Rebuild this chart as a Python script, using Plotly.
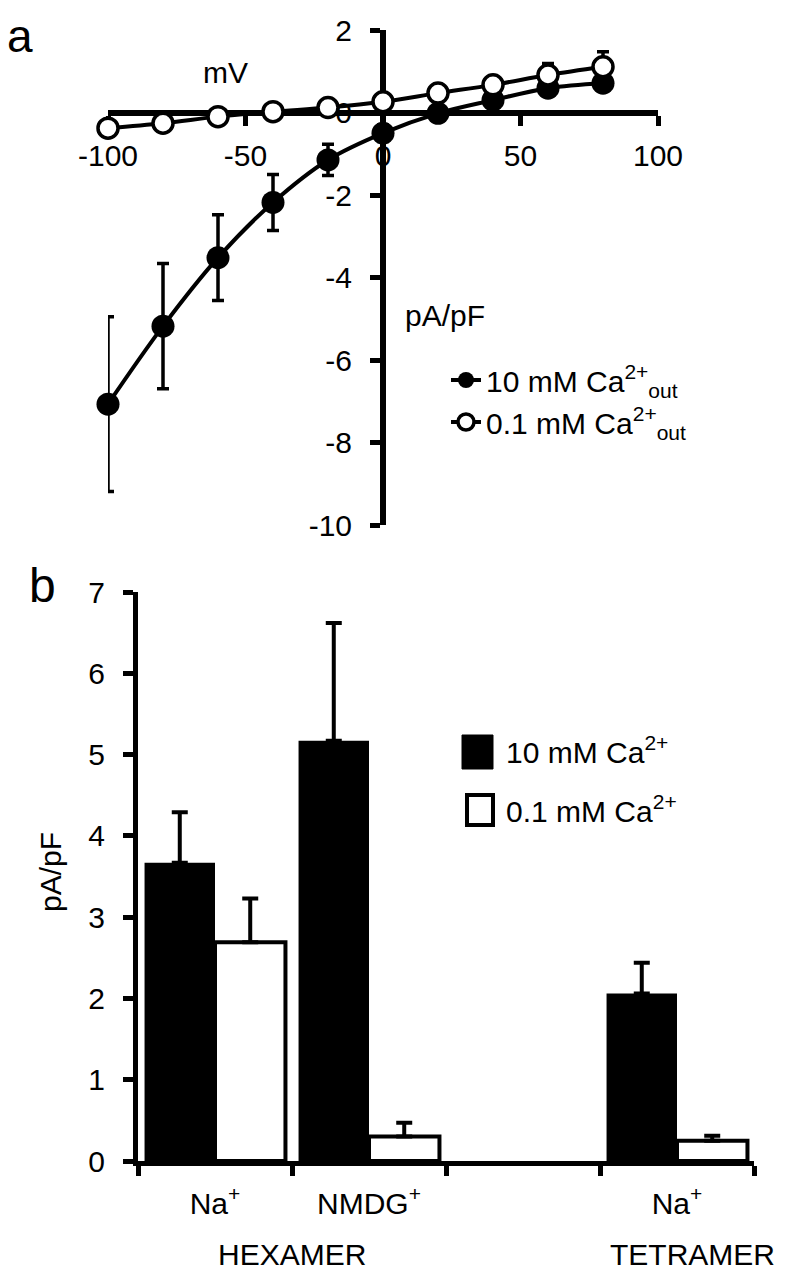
import plotly.graph_objects as go

# ---------------- data: panel a (I-V curves) ----------------
voltage_mv = [-100, -80, -60, -40, -20, 0, 20, 40, 60, 80]
current_10mM = [-7.07, -5.18, -3.52, -2.18, -1.15, -0.50, -0.02, 0.30, 0.59, 0.71]
err_10mM = [2.12, 1.52, 1.04, 0.68, 0.38, 0.20, 0.12, 0.12, 0.12, 0.12]
current_01mM = [-0.38, -0.26, -0.10, 0.02, 0.12, 0.26, 0.47, 0.67, 0.91, 1.11]
err_01mM = [0.05, 0.05, 0.05, 0.05, 0.05, 0.05, 0.08, 0.10, 0.28, 0.36]
xa_ticks = [-100, -50, 0, 50, 100]
xa_ticktext = ["-100", "-50", "0", "50", "100"]
ya_ticks = [-10, -8, -6, -4, -2, 0, 2]
ya_ticktext = ["-10", "-8", "-6", "-4", "-2", "0", "2"]

# ---------------- data: panel b (bar chart) ----------------
categories = ["Na<sup>+</sup>", "NMDG<sup>+</sup>", "", "Na<sup>+</sup>"]
groups = ["HEXAMER", "TETRAMER"]
bars_10mM = [3.67, 5.17, None, 2.06]
bars_10mM_err = [0.62, 1.45, None, 0.38]
bars_01mM = [2.69, 0.30, None, 0.25]
bars_01mM_err = [0.54, 0.17, None, 0.06]
yb_ticks = [0, 1, 2, 3, 4, 5, 6, 7]

FONT = "Liberation Sans, Arial, sans-serif"
FS = 30
PAGE_W, PAGE_H = 792, 1277
OFF = 8  # default page margin around the plot div
W, H = PAGE_W - OFF, PAGE_H - OFF

def px(x):
    return (x - OFF) / W

def py(y):
    return 1 - (y - OFF) / H

fig = go.Figure()

# panel a traces
fig.add_trace(go.Scatter(
    x=voltage_mv, y=current_10mM, mode="lines+markers",
    name="10 mM Ca<sup>2+</sup><sub>out</sub>",
    line=dict(color="black", width=4, shape="spline"),
    marker=dict(symbol="circle", size=23, color="black", line=dict(width=0)),
    error_y=dict(type="data", array=err_10mM, color="black", thickness=3.5, width=6),
    xaxis="x", yaxis="y", cliponaxis=False, legend="legend",
))
fig.add_trace(go.Scatter(
    x=voltage_mv, y=current_01mM, mode="lines+markers",
    name="0.1 mM Ca<sup>2+</sup><sub>out</sub>",
    line=dict(color="black", width=4, shape="spline"),
    marker=dict(symbol="circle", size=20, color="white", line=dict(color="black", width=3.5)),
    error_y=dict(type="data", array=err_01mM, color="black", thickness=3.5, width=6),
    xaxis="x", yaxis="y", cliponaxis=False, legend="legend",
))

# panel b traces
positions = list(range(len(categories)))
fig.add_trace(go.Bar(
    x=positions, y=bars_10mM, name="10 mM Ca<sup>2+</sup>",
    marker=dict(color="black", line=dict(color="black", width=0)),
    error_y=dict(type="data", symmetric=False, array=bars_10mM_err,
                 arrayminus=[0 if v is not None else None for v in bars_10mM_err],
                 color="black", thickness=4, width=8),
    xaxis="x2", yaxis="y2", showlegend=False,
))
fig.add_trace(go.Bar(
    x=positions, y=bars_01mM, name="0.1 mM Ca<sup>2+</sup>",
    marker=dict(color="white", line=dict(color="black", width=4)),
    error_y=dict(type="data", symmetric=False, array=bars_01mM_err,
                 arrayminus=[0 if v is not None else None for v in bars_01mM_err],
                 color="black", thickness=4, width=8),
    xaxis="x2", yaxis="y2", showlegend=False,
))

# axis geometry for panel a (axes cross at origin)
xa_dom = [px(108), px(658)]
ya_dom = [py(525), py(30)]
xa_range = [-100, 100]
ya_range = [-10, 2]
x_at_zero = xa_dom[0] + (0 - xa_range[0]) / (xa_range[1] - xa_range[0]) * (xa_dom[1] - xa_dom[0])
y_at_zero = ya_dom[0] + (0 - ya_range[0]) / (ya_range[1] - ya_range[0]) * (ya_dom[1] - ya_dom[0])

axis_common = dict(showgrid=False, zeroline=False, showline=True, linecolor="black",
                   ticks="outside", tickcolor="black", automargin=False,
                   tickfont=dict(family=FONT, size=FS, color="black"))

xb_dom = [px(138), px(754)]
yb_dom = [py(1161), py(592)]
boundaries = [p - 0.5 for p in positions] + [positions[-1] + 0.5]

fig.update_layout(
    width=W, height=H,
    margin=dict(l=0, r=0, t=0, b=0, autoexpand=False),
    paper_bgcolor="white", plot_bgcolor="rgba(0,0,0,0)",
    font=dict(family=FONT, size=FS, color="black"),
    barmode="group", bargap=0.085, bargroupgap=0,
    xaxis=dict(domain=xa_dom, range=xa_range, anchor="free", position=y_at_zero,
               tickvals=xa_ticks, ticktext=xa_ticktext, linewidth=6, ticklen=10, tickwidth=5,
               layer="below traces", ticklabelstandoff=4, **axis_common),
    yaxis=dict(domain=ya_dom, range=ya_range, anchor="free", position=x_at_zero,
               tickvals=ya_ticks, ticktext=ya_ticktext, linewidth=6, ticklen=10, tickwidth=5,
               layer="below traces", ticklabelstandoff=12, **axis_common),
    xaxis2=dict(domain=xb_dom, range=[-0.5, len(categories) - 0.5], anchor="y2",
                tickvals=positions, ticktext=categories,
                showgrid=False, zeroline=False, showline=True, linecolor="black",
                linewidth=5, ticks="", automargin=False, ticklabelstandoff=12,
                tickfont=dict(family=FONT, size=FS, color="black"),
                minor=dict(tickmode="array", tickvals=boundaries, ticks="outside",
                           ticklen=10, tickwidth=5, tickcolor="black", showgrid=False)),
    yaxis2=dict(domain=yb_dom, range=[0, 7], anchor="x2", tickvals=yb_ticks,
                linewidth=5, ticklen=10, tickwidth=5, ticklabelstandoff=12, **axis_common),
    legend=dict(x=px(446), y=py(354), xanchor="left", yanchor="top",
                bgcolor="rgba(0,0,0,0)", font=dict(family=FONT, size=FS, color="black"),
                itemsizing="trace", tracegroupgap=0),
)

ann = []
ann.append(dict(text="a", x=px(20), y=py(8), xref="paper", yref="paper", showarrow=False,
                font=dict(size=46), xanchor="center", yanchor="top"))
ann.append(dict(text="b", x=px(42), y=py(585), xref="paper", yref="paper", showarrow=False,
                font=dict(size=48), xanchor="center", yanchor="middle"))
ann.append(dict(text="mV", x=px(225), y=py(73), xref="paper", yref="paper", showarrow=False,
                font=dict(size=FS), xanchor="center", yanchor="middle"))
ann.append(dict(text="pA/pF", x=px(403), y=py(315), xref="paper", yref="paper", showarrow=False,
                font=dict(size=FS), xanchor="left", yanchor="middle"))
ann.append(dict(text="pA/pF", x=px(50), y=py(872), xref="paper", yref="paper", showarrow=False,
                font=dict(size=FS), xanchor="center", yanchor="middle", textangle=-90))
ann.append(dict(text=groups[0], x=0.5, y=py(1254), xref="x2", yref="paper", showarrow=False,
                font=dict(size=FS), xanchor="center", yanchor="middle"))
ann.append(dict(text=groups[1], x=3.1, y=py(1254), xref="x2", yref="paper", showarrow=False,
                font=dict(size=FS), xanchor="center", yanchor="middle"))
ann.append(dict(text="10 mM Ca<sup>2+</sup>", x=px(504), y=py(750), xref="paper", yref="paper",
                showarrow=False, font=dict(size=FS), xanchor="left", yanchor="middle"))
ann.append(dict(text="0.1 mM Ca<sup>2+</sup>", x=px(504), y=py(809), xref="paper", yref="paper",
                showarrow=False, font=dict(size=FS), xanchor="left", yanchor="middle"))

shapes = [
    dict(type="rect", xref="paper", yref="paper", x0=px(462), x1=px(493), y0=py(769), y1=py(735),
         fillcolor="black", line=dict(color="black", width=1)),
    dict(type="rect", xref="paper", yref="paper", x0=px(467), x1=px(493), y0=py(825), y1=py(795),
         fillcolor="white", line=dict(color="black", width=4)),
]
fig.update_layout(annotations=ann, shapes=shapes)

fig.write_html("out.html")
